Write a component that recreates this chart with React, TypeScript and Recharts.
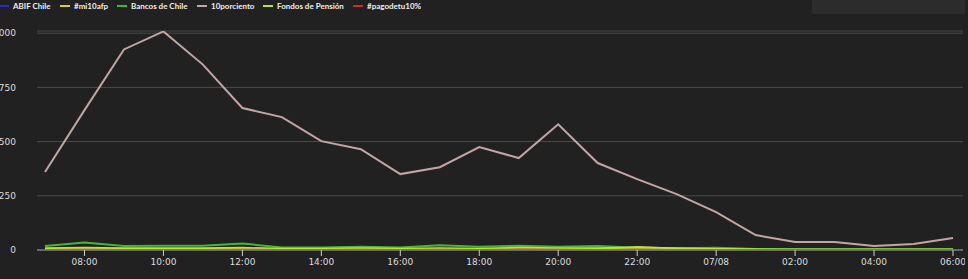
import React from "react";
import { LineChart, Line, XAxis, YAxis, CartesianGrid } from "recharts";

const hours = [
  "07:00", "08:00", "09:00", "10:00", "11:00", "12:00", "13:00", "14:00",
  "15:00", "16:00", "17:00", "18:00", "19:00", "20:00", "21:00", "22:00",
  "23:00", "07/08", "01:00", "02:00", "03:00", "04:00", "05:00", "06:00",
];
const xTicks = ["08:00", "10:00", "12:00", "14:00", "16:00", "18:00", "20:00", "22:00", "07/08", "02:00", "04:00", "06:00"];
const yTicks = [0, 250, 500, 750, 1000];

const abifChile = [0, 0, 0, 0, 0, 0, 0, 0, 0, 0, 0, 0, 0, 0, 0, 0, 0, 0, 0, 0, 0, 0, 0, 0];
const mi10afp = [4, 5, 4, 4, 4, 5, 3, 3, 4, 4, 5, 4, 6, 5, 4, 14, 6, 3, 1, 0, 0, 0, 0, 0];
const bancosDeChile = [18, 35, 18, 20, 20, 30, 12, 12, 15, 12, 22, 15, 20, 15, 18, 10, 8, 10, 5, 3, 3, 3, 3, 3];
const porciento10 = [360, 645, 925, 1008, 855, 655, 613, 502, 465, 350, 382, 475, 424, 580, 401, 327, 258, 175, 69, 37, 37, 18, 28, 55];
const fondosDePension = [8, 10, 8, 8, 8, 10, 6, 6, 8, 6, 8, 6, 10, 8, 8, 12, 8, 5, 3, 2, 2, 2, 2, 2];
const pagodetu10 = [0, 1, 0, 0, 0, 1, 0, 0, 1, 0, 1, 0, 2, 1, 0, 1, 0, 0, 0, 0, 0, 0, 0, 0];

const seriesNames = ["ABIF Chile", "#mi10afp", "Bancos de Chile", "10porciento", "Fondos de Pensión", "#pagodetu10%"];
const seriesKeys = ["abif", "mi10afp", "bancos", "porciento", "fondos", "pagodetu"];
const seriesColors = ["#2a2ad0", "#d8d040", "#44b82a", "#c4a4a4", "#b8e638", "#d02a2a"];
const seriesValues = [abifChile, mi10afp, bancosDeChile, porciento10, fondosDePension, pagodetu10];

const data = hours.map((h, i) => {
  const row: Record<string, string | number> = { time: h };
  seriesKeys.forEach((k, s) => {
    row[k] = seriesValues[s][i];
  });
  return row;
});

const legendX = [-1, 60, 117, 197, 263, 353];

export default function App() {
  return (
    <div
      style={{
        position: "absolute",
        left: 0,
        top: 0,
        width: 968,
        height: 279,
        background: "#212121",
        overflow: "hidden",
      }}
    >
      <div style={{ position: "absolute", left: 812, top: 0, width: 153, height: 14, background: "#2c2c2c" }} />
      {seriesNames.map((n, i) => (
        <div
          key={n}
          style={{
            position: "absolute",
            left: legendX[i],
            top: 0,
            height: 12,
            display: "flex",
            alignItems: "center",
            fontFamily: "Lato, 'Open Sans', sans-serif",
            fontWeight: 700,
            fontSize: 8,
            color: "#f0f0f0",
            whiteSpace: "nowrap",
          }}
        >
          <span style={{ display: "inline-block", width: 10, height: 2, background: seriesColors[i], marginRight: 4 }} />
          {n}
        </div>
      ))}
      <div style={{ position: "absolute", left: 0, top: 0 }}>
        <LineChart width={965} height={279} data={data} margin={{ top: 31, right: 2, bottom: 0, left: 0 }}>
          <CartesianGrid horizontal vertical={false} stroke="#4a4a4a" strokeWidth={1} />
          <XAxis
            dataKey="time"
            ticks={xTicks}
            interval={0}
            padding={{ left: 8, right: 10 }}
            stroke="#9a9a9a"
            tickLine={{ stroke: "#cfcfcf" }}
            tickSize={6}
            tickMargin={3}
            height={29}
            tick={{ fill: "#dddddd", fontSize: 9, fontFamily: "DejaVu Sans" }}
          />
          <YAxis
            domain={[0, 1010]}
            allowDataOverflow
            ticks={yTicks}
            width={37}
            axisLine={false}
            tickLine={false}
            tickMargin={15}
            tickFormatter={(v: number) => v.toLocaleString("en-US")}
            tick={{ fill: "#dddddd", fontSize: 9, fontFamily: "DejaVu Sans" }}
          />
          {seriesKeys.map((k, i) => (
            <Line
              key={k}
              type="linear"
              dataKey={k}
              name={seriesNames[i]}
              stroke={seriesColors[i]}
              strokeWidth={2}
              dot={false}
              isAnimationActive={false}
            />
          ))}
        </LineChart>
      </div>
    </div>
  );
}
